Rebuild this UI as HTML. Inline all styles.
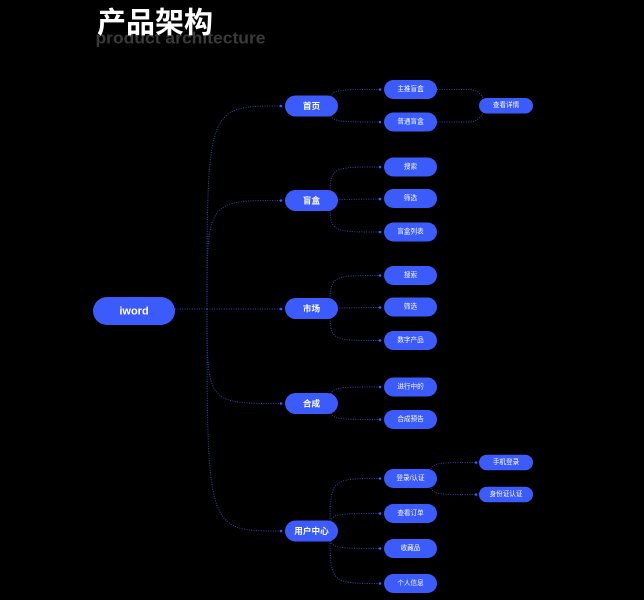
<!DOCTYPE html>
<html><head><meta charset="utf-8"><style>
html,body{margin:0;padding:0;background:#000;}
svg{display:block;}
.n{fill:#3b5bfd;}
.c{fill:none;stroke:#2f46b4;stroke-width:1;stroke-dasharray:1 1.4;}
.d{fill:#3b5bfd;}
.t1{font-family:"Liberation Sans","Noto Sans CJK SC",sans-serif;font-weight:bold;font-size:8.6px;fill:#fff;text-anchor:middle;dominant-baseline:central;}
.t2{font-family:"Liberation Sans","Noto Sans CJK SC",sans-serif;font-size:6.6px;fill:#fff;text-anchor:middle;dominant-baseline:central;}
</style></head><body>
<svg width="644" height="600" viewBox="0 0 644 600" xmlns="http://www.w3.org/2000/svg">
<rect width="644" height="600" fill="#000"/>
<text x="95.5" y="43.5" font-family="Liberation Sans, sans-serif" font-weight="bold" font-size="17" fill="#3a3a3a" textLength="170" lengthAdjust="spacingAndGlyphs">product architecture</text>
<text x="97" y="32.5" font-family="Liberation Sans, Noto Sans CJK SC, sans-serif" font-weight="bold" font-size="29" fill="#fff">产品架构</text>

<!-- root connectors -->
<path class="c" d="M175 309 L207 309"/>
<path class="c" d="M207 309 C207 106,207 106,281 106"/>
<path class="c" d="M207 309 C207 200.5,207 200.5,281 200.5"/>
<path class="c" d="M207 309 L281 309"/>
<path class="c" d="M207 309 C207 403.5,207 403.5,281 403.5"/>
<path class="c" d="M207 309 C207 531,207 531,281 531"/>
<circle class="d" cx="281" cy="106" r="1.3"/>
<circle class="d" cx="281" cy="200.5" r="1.3"/>
<circle class="d" cx="281" cy="309" r="1.3"/>
<circle class="d" cx="281" cy="403.5" r="1.3"/>
<circle class="d" cx="281" cy="531" r="1.3"/>

<!-- L1 -> L2 connectors -->
<path class="c" d="M330 106 C330 89.5,330 89.5,380 89.5"/>
<path class="c" d="M330 106 C330 122,330 122,380 122"/>
<path class="c" d="M330 200.5 C330 167,330 167,380 167"/>
<path class="c" d="M337 199.5 L380 199"/>
<path class="c" d="M330 200.5 C330 232,330 232,380 232"/>
<path class="c" d="M330 308.5 C330 275.5,330 275.5,380 275.5"/>
<path class="c" d="M337 308 L380 307.5"/>
<path class="c" d="M330 308.5 C330 340.5,330 340.5,380 340.5"/>
<path class="c" d="M330 403.5 C330 387,330 387,380 387"/>
<path class="c" d="M330 403.5 C330 419.5,330 419.5,380 419.5"/>
<path class="c" d="M330 531 C330 478.5,330 478.5,380 478.5"/>
<path class="c" d="M330 531 C330 513.5,330 513.5,380 513.5"/>
<path class="c" d="M330 531 C330 548.5,330 548.5,380 548.5"/>
<path class="c" d="M330 531 C330 583.5,330 583.5,380 583.5"/>
<g class="d">
<circle cx="380" cy="89.5" r="1.3"/><circle cx="380" cy="122" r="1.3"/>
<circle cx="380" cy="167" r="1.3"/><circle cx="380" cy="199" r="1.3"/><circle cx="380" cy="232" r="1.3"/>
<circle cx="380" cy="275.5" r="1.3"/><circle cx="380" cy="307.5" r="1.3"/><circle cx="380" cy="340.5" r="1.3"/>
<circle cx="380" cy="387" r="1.3"/><circle cx="380" cy="419.5" r="1.3"/>
<circle cx="380" cy="478.5" r="1.3"/><circle cx="380" cy="513.5" r="1.3"/><circle cx="380" cy="548.5" r="1.3"/><circle cx="380" cy="583.5" r="1.3"/>
</g>

<!-- L2 -> L3 connectors -->
<path class="c" d="M437 89.5 L468 89.5 C476 89.5,480 92,484 100"/>
<path class="c" d="M437 122 L468 122 C476 122,480 119,484 111"/>
<path class="c" d="M430 478.5 C430 462.5,430 462.5,476 462.5"/>
<path class="c" d="M430 478.5 C430 494.5,430 494.5,476 494.5"/>
<circle class="d" cx="476" cy="462.5" r="1.3"/>
<circle class="d" cx="476" cy="494.5" r="1.3"/>

<!-- root node -->
<rect class="n" x="93" y="297" width="82" height="28" rx="14"/>
<text x="134" y="311.5" font-family="Liberation Sans, sans-serif" font-weight="bold" font-size="11" fill="#fff" text-anchor="middle" dominant-baseline="central">iword</text>

<!-- L1 nodes -->
<rect class="n" x="285" y="95.5" width="53" height="21" rx="10.5"/><text class="t1" x="311.5" y="106">首页</text>
<rect class="n" x="285" y="190" width="53" height="21" rx="10.5"/><text class="t1" x="311.5" y="200.5">盲盒</text>
<rect class="n" x="285" y="298" width="53" height="21" rx="10.5"/><text class="t1" x="311.5" y="308.5">市场</text>
<rect class="n" x="285" y="393" width="53" height="21" rx="10.5"/><text class="t1" x="311.5" y="403.5">合成</text>
<rect class="n" x="285" y="520.5" width="53" height="21" rx="10.5"/><text class="t1" x="311.5" y="531">用户中心</text>

<!-- L2 nodes -->
<rect class="n" x="384" y="80" width="53" height="19" rx="9.5"/><text class="t2" x="410.5" y="89.5">主推盲盒</text>
<rect class="n" x="384" y="112.5" width="53" height="19" rx="9.5"/><text class="t2" x="410.5" y="122">普通盲盒</text>
<rect class="n" x="384" y="157.5" width="53" height="19" rx="9.5"/><text class="t2" x="410.5" y="167">搜索</text>
<rect class="n" x="384" y="189" width="53" height="19" rx="9.5"/><text class="t2" x="410.5" y="198.5">筛选</text>
<rect class="n" x="384" y="222.5" width="53" height="19" rx="9.5"/><text class="t2" x="410.5" y="232">盲盒列表</text>
<rect class="n" x="384" y="266" width="53" height="19" rx="9.5"/><text class="t2" x="410.5" y="275.5">搜索</text>
<rect class="n" x="384" y="297.5" width="53" height="19" rx="9.5"/><text class="t2" x="410.5" y="307">筛选</text>
<rect class="n" x="384" y="331" width="53" height="19" rx="9.5"/><text class="t2" x="410.5" y="340.5">数字产品</text>
<rect class="n" x="384" y="377.5" width="53" height="19" rx="9.5"/><text class="t2" x="410.5" y="387">进行中的</text>
<rect class="n" x="384" y="410" width="53" height="19" rx="9.5"/><text class="t2" x="410.5" y="419.5">合成预告</text>
<rect class="n" x="384" y="469" width="53" height="19" rx="9.5"/><text class="t2" x="410.5" y="478.5">登录/认证</text>
<rect class="n" x="384" y="504" width="53" height="19" rx="9.5"/><text class="t2" x="410.5" y="513.5">查看订单</text>
<rect class="n" x="384" y="539" width="53" height="19" rx="9.5"/><text class="t2" x="410.5" y="548.5">收藏品</text>
<rect class="n" x="384" y="574" width="53" height="19" rx="9.5"/><text class="t2" x="410.5" y="583.5">个人信息</text>

<!-- L3 nodes -->
<rect class="n" x="479" y="98" width="54" height="15.5" rx="7.75"/><text class="t2" x="506" y="105.7">查看详情</text>
<rect class="n" x="479" y="454.7" width="54" height="15.6" rx="7.8"/><text class="t2" x="506" y="462.5">手机登录</text>
<rect class="n" x="479" y="486.7" width="54" height="15.6" rx="7.8"/><text class="t2" x="506" y="494.5">身份证认证</text>
</svg>
</body></html>
